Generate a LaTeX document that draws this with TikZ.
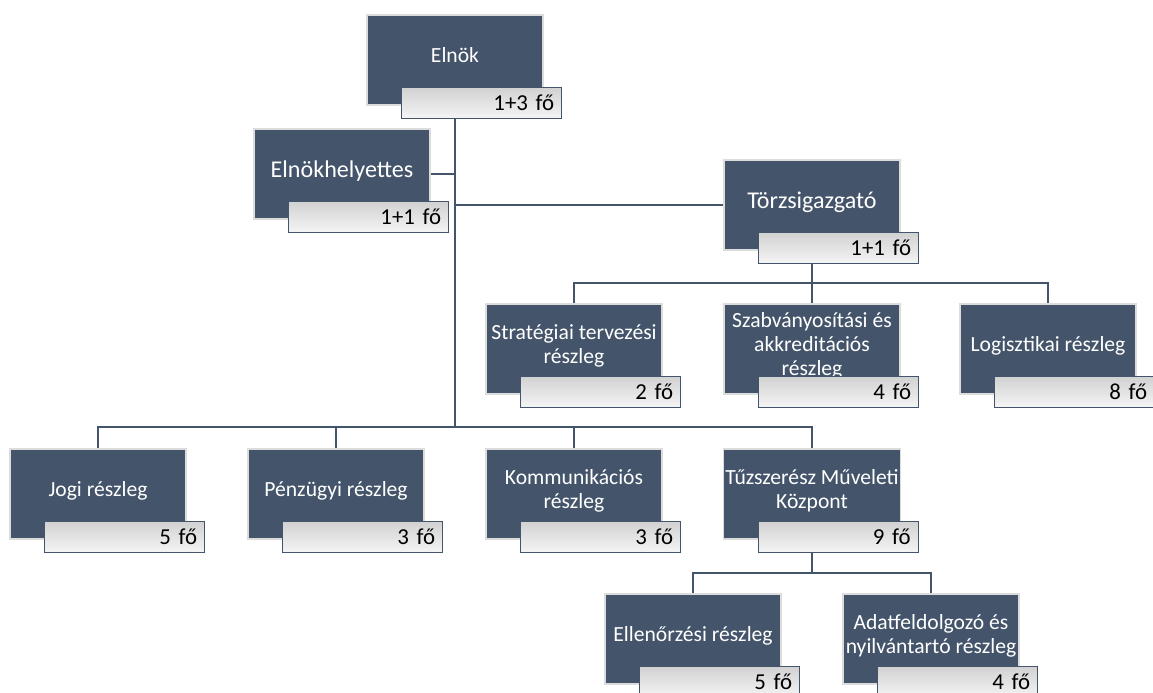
\documentclass[tikz,border=0pt]{standalone}
\usepackage{fontspec}
\setmainfont{Carlito}
\usetikzlibrary{positioning,calc,backgrounds}
\definecolor{slate}{HTML}{44546A}
\definecolor{rim}{HTML}{DCDCDC}

\begin{document}
\begin{tikzpicture}[x=0.02cm,y=-0.02cm,
  unit/.style={rectangle,draw=rim,line width=1pt,fill=slate,text=white,align=center,
    minimum width=3.52cm,minimum height=1.8cm,inner sep=1pt,text depth=5.5pt,
    font=\fontsize{12.3}{13.6}\selectfont},
  head/.style={unit,font=\fontsize{13.7}{15}\selectfont},
  count/.style={rectangle,draw=slate,line width=0.6pt,top color=black!18,bottom color=black!4,
    text=black,align=right,text width=2.9cm,inner xsep=0.15cm,inner ysep=0pt,
    minimum height=0.62cm,font=\fontsize{13}{15}\selectfont},
  link/.style={draw=slate,line width=1.3pt}]
\useasboundingbox (0,0) rectangle (1153,693);

\node[unit] (elnok) at (455,60) {Elnök};
\node[head] (helyettes) at (342,174) {Elnökhelyettes};
\node[head] (torzs) at (812,205) {Törzsigazgató};

\node[unit] (strat) at (574,349) {Stratégiai tervezési\\részleg};
\node[unit] (szabv) at (812,349) {Szabványosítási és\\akkreditációs\\részleg};
\node[unit] (logiszt) at (1048,349) {Logisztikai részleg};

\node[unit] (jogi) at (98,494) {Jogi részleg};
\node[unit] (penz) at (336,494) {Pénzügyi részleg};
\node[unit] (komm) at (574,494) {Kommunikációs\\részleg};
\node[unit] (tuzsz) at (812,494) {Tűzszerész Műveleti\\Központ};

\node[unit] (ellen) at (693,639) {Ellenőrzési részleg};
\node[unit] (adat) at (931,639) {Adatfeldolgozó és\\nyilvántartó részleg};

\foreach \n/\c in {elnok/1+3 fő,helyettes/1+1 fő,torzs/1+1 fő,strat/2 fő,szabv/4 fő,
    logiszt/8 fő,jogi/5 fő,penz/3 fő,komm/3 fő,tuzsz/9 fő,ellen/5 fő,adat/4 fő}
  \node[count,anchor=south west] (\n-c) at ([shift={(35,13)}]\n.south west) {\c};

\begin{scope}[on background layer]
  \coordinate (bus) at (455,427);
  \coordinate (bus2) at (812,283);
  \coordinate (bus3) at (812,573);
  \draw[link] (elnok.south) -- (bus);
  \draw[link] (helyettes.east) -- (helyettes.east -| elnok.south);
  \draw[link] (torzs.west) -- (torzs.west -| elnok.south);
  \draw[link] (jogi.north) |- (bus) -| (tuzsz.north);
  \foreach \n in {penz,komm}
    \draw[link] (\n.north) -- (\n.north |- bus);
  \draw[link] (torzs.south) -- (bus2);
  \draw[link] (strat.north) |- (bus2) -| (logiszt.north);
  \draw[link] (szabv.north) -- (bus2);
  \draw[link] (tuzsz.south) -- (bus3);
  \draw[link] (ellen.north) |- (bus3) -| (adat.north);
\end{scope}
\end{tikzpicture}
\end{document}
